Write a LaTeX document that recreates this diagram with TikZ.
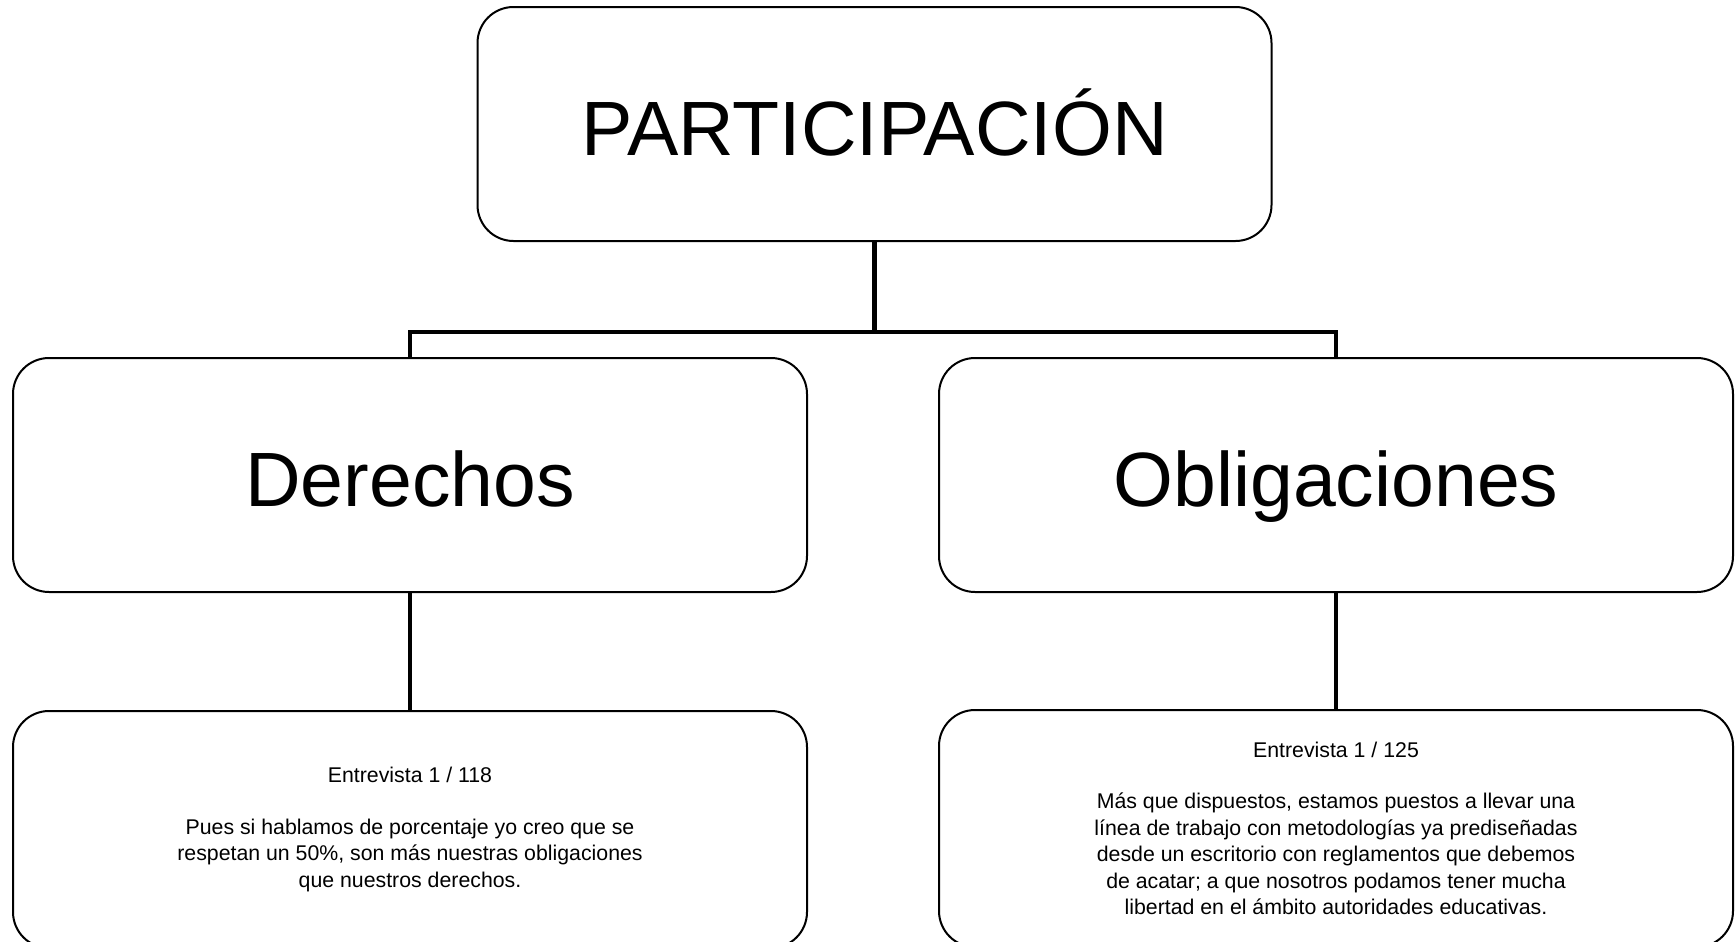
\documentclass[tikz,border=0pt]{standalone}
\usepackage{fontspec}
\setmainfont{Liberation Sans}

\begin{document}
\begin{tikzpicture}[x=0.5pt,y=-0.5pt,
    box/.style={draw, line width=1pt, rounded corners=18pt, align=center, inner sep=0pt},
    bigbox/.style={box, minimum width=397pt, minimum height=117pt,
        text height=35pt, text depth=3.4pt,
        font=\fontsize{38.5}{46}\selectfont},
    quotebox/.style={box, minimum width=397pt, minimum height=118.5pt,
        font=\fontsize{10.65}{13.25}\selectfont},
    conn/.style={line width=2.4pt}]
    % Fix the frame of the picture
    \clip (0,0) rectangle (1735,942);
    \useasboundingbox (0,0) rectangle (1735,942);

    % Main concept
    \node[bigbox] (part) at (874.5,124) {PARTICIPACIÓN};

    % The two branches
    \node[bigbox] (der) at (410,475) {Derechos};
    \node[bigbox] (obl) at (1336,475) {Obligaciones};

    % Interview quotes
    \node[quotebox] (qder) at (410,829.5) {Entrevista 1 / 118\\[12.5pt]
        Pues si hablamos de porcentaje yo creo que se\\
        respetan un 50\%, son más nuestras obligaciones\\
        que nuestros derechos.};
    \node[quotebox] (qobl) at (1336,828.5) {Entrevista 1 / 125\\[12.5pt]
        Más que dispuestos, estamos puestos a llevar una\\
        línea de trabajo con metodologías ya prediseñadas\\
        desde un escritorio con reglamentos que debemos\\
        de acatar; a que nosotros podamos tener mucha\\
        libertad en el ámbito autoridades educativas.};

    % Connectors
    \coordinate (bus) at (874.5,332);
    \draw[conn] (part.south) -- (bus);
    \draw[conn] (der.north) |- (bus) -| (obl.north);
    \draw[conn] (der.south) -- (qder.north);
    \draw[conn] (obl.south) -- (qobl.north);
\end{tikzpicture}
\end{document}
